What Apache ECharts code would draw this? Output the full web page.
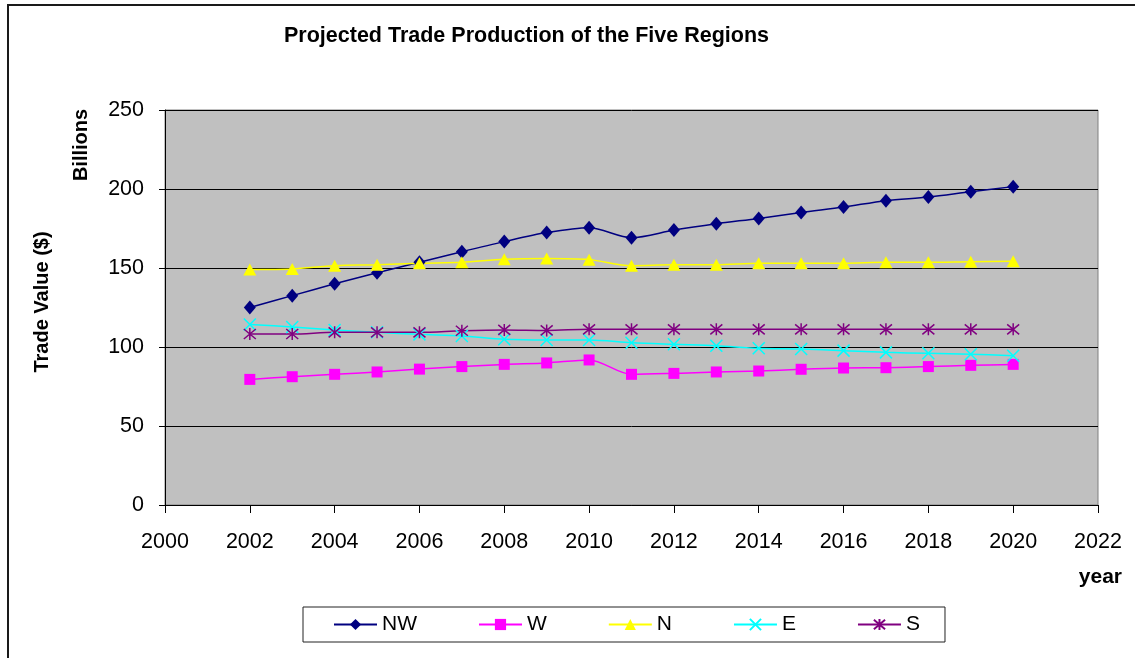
<!DOCTYPE html>
<html>
<head>
<meta charset="utf-8">
<script src="https://cdn.jsdelivr.net/npm/echarts@6/dist/echarts.min.js"></script>
<style>
  html, body { margin: 0; padding: 0; background: #fff; }
  #chart { width: 1135px; height: 658px; }
</style>
</head>
<body>
<div id="chart"></div>
<script>
const years = [2002, 2003, 2004, 2005, 2006, 2007, 2008, 2009, 2010, 2011,
  2012, 2013, 2014, 2015, 2016, 2017, 2018, 2019, 2020];
const nwValues = [125, 132.5, 140, 147, 153.6, 160.3, 166.7, 172.4, 175.5, 169.2,
  174, 178, 181.4, 185.2, 188.6, 192.6, 194.9, 198.3, 201.5];
const wValues = [79.5, 81.2, 82.7, 84.2, 86, 87.6, 89, 89.9, 91.8, 82.7,
  83.3, 84.2, 84.8, 85.9, 86.7, 86.9, 87.6, 88.4, 89];
const nValues = [149, 149.4, 151.5, 152, 153, 153.6, 155.5, 156, 155.3, 151.5,
  152, 152, 153, 153, 153, 153.6, 153.6, 154, 154.2];
const eValues = [114.3, 112.7, 110.8, 109.3, 108, 107, 104.9, 104.4, 104.4, 102.7,
  101.7, 100.8, 99.2, 98.7, 97.7, 96.6, 96, 95.4, 94.5];
const sValues = [108.2, 108.2, 109.3, 109.3, 109.3, 110.3, 110.8, 110.5, 111.2, 111.2,
  111.2, 111.2, 111.2, 111.2, 111.2, 111.2, 111.2, 111.2, 111.2];
const yTicks = [0, 50, 100, 150, 200, 250];
const xTicks = [2000, 2002, 2004, 2006, 2008, 2010, 2012, 2014, 2016, 2018, 2020, 2022];

const font = "'Liberation Sans', Arial, sans-serif";
const pairs = (vals) => years.map((y, i) => [y, vals[i]]);

// excel-ish marker shapes
const crossPath = "path://M0,0L10,10M10,0L0,10";
const starPath = "path://M0,0L10,10M10,0L0,10M5,-1L5,11";

function makeSeries(name, vals, color, symbol, size, stroked) {
  return {
    name: name,
    type: "line",
    data: pairs(vals),
    smooth: 0.3,
    symbol: symbol,
    symbolSize: size,
    showAllSymbol: true,
    lineStyle: { color: color, width: 1.5 },
    itemStyle: stroked
      ? { color: "rgba(0,0,0,0)", borderColor: color, borderWidth: 1.5 }
      : { color: color, borderWidth: 0 },
    emphasis: { disabled: true },
  };
}

const myChart = echarts.init(document.getElementById("chart"));
myChart.setOption({
  animation: false,
  textStyle: { fontFamily: font },
  title: {
    text: "Projected Trade Production of the Five Regions",
    left: 279,
    top: 20,
    textStyle: { fontSize: 21.5, fontWeight: "bold", color: "#000", fontFamily: font },
  },
  legend: {
    left: 303,
    top: 607,
    orient: "horizontal",
    padding: [7, 25, 7, 30],
    itemWidth: 43,
    itemHeight: 14,
    itemGap: 61,
    borderColor: "#222",
    borderWidth: 1,
    textStyle: { fontSize: 21, color: "#000", fontFamily: font },
    data: ["NW", "W", "N", "E", "S"],
  },
  grid: {
    left: 165,
    right: 37,
    top: 110,
    bottom: 153,
    show: true,
    backgroundColor: "#C0C0C0",
    borderColor: "#808080",
    borderWidth: 1,
  },
  xAxis: {
    type: "value",
    min: 2000,
    max: 2022,
    interval: 2,
    axisLine: { show: true, onZero: false, lineStyle: { color: "#000", width: 1 } },
    axisTick: { show: true, length: 8, lineStyle: { color: "#000" } },
    splitLine: { show: false },
    axisLabel: {
      fontSize: 21.5,
      color: "#000",
      margin: 26,
      fontFamily: font,
      formatter: (v) => (xTicks.indexOf(v) >= 0 ? String(v) : ""),
    },
  },
  yAxis: {
    type: "value",
    min: 0,
    max: 250,
    interval: 50,
    axisLine: { show: true, lineStyle: { color: "#000", width: 1 } },
    axisTick: { show: true, length: 6, lineStyle: { color: "#000" } },
    splitLine: { show: true, lineStyle: { color: "#000", width: 1 } },
    axisLabel: {
      fontSize: 21.5,
      color: "#000",
      margin: 21,
      fontFamily: font,
      formatter: (v) => (yTicks.indexOf(v) >= 0 ? String(v) : ""),
    },
  },
  graphic: [
    {
      type: "rect",
      silent: true,
      shape: { x: 8, y: 5, width: 1300, height: 800 },
      style: { fill: "none", stroke: "#1a1a1a", lineWidth: 2 },
      z: -10,
    },
    {
      type: "text",
      x: 42,
      y: 302,
      rotation: Math.PI / 2,
      style: {
        text: "Trade Value ($)",
        fontSize: 20,
        fontWeight: "bold",
        fontFamily: font,
        fill: "#000",
        align: "center",
        verticalAlign: "middle",
      },
    },
    {
      type: "text",
      x: 81,
      y: 145,
      rotation: Math.PI / 2,
      style: {
        text: "Billions",
        fontSize: 20,
        fontWeight: "bold",
        fontFamily: font,
        fill: "#000",
        align: "center",
        verticalAlign: "middle",
      },
    },
    {
      type: "text",
      x: 1122,
      y: 577,
      style: {
        text: "year",
        fontSize: 21,
        fontWeight: "bold",
        fontFamily: font,
        fill: "#000",
        align: "right",
        verticalAlign: "middle",
      },
    },
  ],
  series: [
    makeSeries("NW", nwValues, "#000080", "diamond", [12, 14], false),
    makeSeries("W", wValues, "#FF00FF", "rect", 11, false),
    makeSeries("N", nValues, "#FFFF00", "triangle", [13, 12], false),
    makeSeries("E", eValues, "#00FFFF", crossPath, 12, true),
    makeSeries("S", sValues, "#800080", starPath, 12, true),
  ],
});
</script>
</body>
</html>
